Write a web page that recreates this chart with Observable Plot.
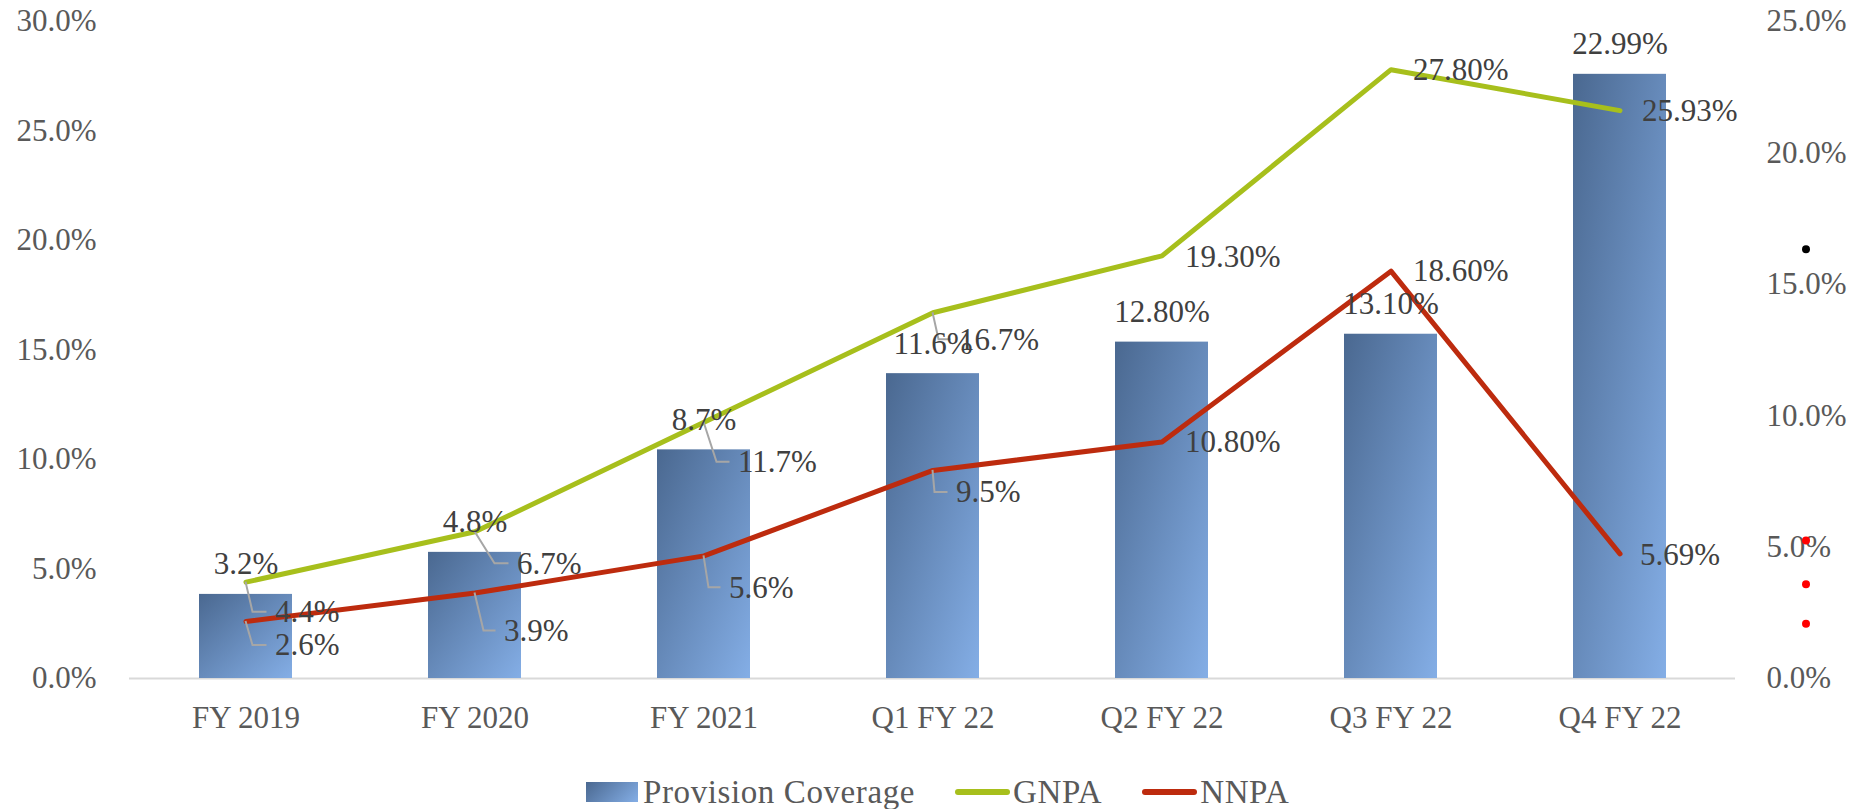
<!DOCTYPE html>
<html>
<head>
<meta charset="utf-8">
<script src="https://cdn.jsdelivr.net/npm/d3@7"></script>
<script src="https://cdn.jsdelivr.net/npm/@observablehq/plot@0.6"></script>
<style>
  body { margin: 0; background: #fff; }
  #wrap { position: relative; width: 1854px; height: 809px; font-family: "Liberation Serif", serif; }
  #legend { position: absolute; top: 772px; left: 586px; height: 40px; display: flex; align-items: center;
            font-size: 33px; color: #595959; white-space: nowrap; letter-spacing: 0.6px; }
  #legend .sw { width: 52px; height: 20px; background: linear-gradient(135deg, #4a6890, #84aee6); margin-right: 5px; }
  #legend .ln { width: 55px; height: 6px; border-radius: 3px; margin-left: 40px; margin-right: 3px; }
</style>
</head>
<body>
<div id="wrap">
  <div id="chart"></div>
  <div id="legend"></div>
</div>
<script>
// ---------------- data ----------------
const categories = ["FY 2019", "FY 2020", "FY 2021", "Q1 FY 22", "Q2 FY 22", "Q3 FY 22", "Q4 FY 22"];
const provisionCoverage = [3.2, 4.8, 8.7, 11.6, 12.80, 13.10, 22.99];   // right axis
const provisionLabels = ["3.2%", "4.8%", "8.7%", "11.6%", "12.80%", "13.10%", "22.99%"];
const gnpa = [4.4, 6.7, 11.7, 16.7, 19.30, 27.80, 25.93];             // left axis
const gnpaLabels = ["4.4%", "6.7%", "11.7%", "16.7%", "19.30%", "27.80%", "25.93%"];
const nnpa = [2.6, 3.9, 5.6, 9.5, 10.80, 18.60, 5.69];                // left axis
const nnpaLabels = ["2.6%", "3.9%", "5.6%", "9.5%", "10.80%", "18.60%", "5.69%"];
const leftTicks = [0, 5, 10, 15, 20, 25, 30];
const rightTicks = [0, 5, 10, 15, 20, 25];
const strayBlackDots = [19.6];          // stray markers right of the chart (left-axis units)
const strayRedDots = [6.3, 4.3, 2.5];
const seriesNames = ["Provision Coverage", "GNPA", "NNPA"];

// ---------------- layout / style ----------------
const RATIO = 30 / 25;  // right axis 0–25% mapped onto left axis 0–30%
const COLORS = { gnpa: "#a7bf1c", nnpa: "#bd2b0e", label: "#404040", leader: "#a6a6a6" };
// label offsets [dx, dy] in px from each point, and leader knee x
const gnpaOffsets = [[29, 30], [42, 32], [34, 40], [26, 27], [23, 1], [22, 0], [22, 0]];
const gnpaKnees = [7, 20, 13, 6, null, null, null];
const nnpaOffsets = [[29, 24], [29, 38], [25, 32], [23, 22], [23, 0], [22, 0], [20, 1]];
const nnpaKnees = [7, 9, 5, 2, null, null, null];

const bars = categories.map((c, i) => ({ cat: c, v: provisionCoverage[i] * RATIO, label: provisionLabels[i] }));
const gData = categories.map((c, i) => ({ cat: c, v: gnpa[i], label: gnpaLabels[i] }));
const nData = categories.map((c, i) => ({ cat: c, v: nnpa[i], label: nnpaLabels[i] }));

function defs() {
  const svg = d3.create("svg:defs");
  const g = svg.append("linearGradient").attr("id", "barGrad")
    .attr("x1", 0).attr("y1", 0).attr("x2", 1).attr("y2", 1);
  g.append("stop").attr("offset", "0%").attr("stop-color", "#4a6890");
  g.append("stop").attr("offset", "100%").attr("stop-color", "#84aee6");
  return svg.node();
}

function leaders(index, scales) {
  const g = d3.create("svg:g").attr("fill", "none").attr("stroke", COLORS.leader).attr("stroke-width", 2);
  const half = scales.x.bandwidth ? scales.x.bandwidth() / 2 : 0;
  const draw = (data, offsets, knees) => {
    data.forEach((d, i) => {
      if (knees[i] == null) return;
      const px = scales.x(d.cat) + half, py = scales.y(d.v);
      const [dx, dy] = offsets[i];
      g.append("path").attr("d", `M${px},${py}L${px + knees[i]},${py + dy}L${px + dx - 8},${py + dy}`);
    });
  };
  draw(gData, gnpaOffsets, gnpaKnees);
  draw(nData, nnpaOffsets, nnpaKnees);
  return g.node();
}

const labelMarks = (data, offsets) => data.map((d, i) =>
  Plot.text([d], { x: "cat", y: "v", text: "label", dx: offsets[i][0], dy: offsets[i][1],
                   textAnchor: "start", fill: COLORS.label }));

const chart = Plot.plot({
  width: 1854,
  height: 760,
  marginTop: 21,
  marginBottom: 82,
  marginLeft: 129,
  marginRight: 119,
  style: { fontFamily: '"Liberation Serif", serif', fontSize: "31px", color: "#595959", background: "transparent" },
  x: { type: "band", domain: categories, paddingInner: 0.595, paddingOuter: 0.2975 },
  y: { domain: [0, 30] },
  marks: [
    defs,
    Plot.ruleY([0], { stroke: "#d9d9d9", strokeWidth: 2 }),
    Plot.barY(bars, { x: "cat", y: "v", fill: "url(#barGrad)" }),
    Plot.axisX({ tickSize: 0, tickPadding: 27, label: null }),
    Plot.axisY(leftTicks, { anchor: "left", tickSize: 0, tickPadding: 33, label: null,
                            tickFormat: d => d.toFixed(1) + "%" }),
    Plot.axisY(rightTicks.map(t => t * RATIO), { anchor: "right", tickSize: 0, tickPadding: 31, label: null,
                            tickFormat: d => (d / RATIO).toFixed(1) + "%" }),
    Plot.line(gData, { x: "cat", y: "v", stroke: COLORS.gnpa, strokeWidth: 5 }),
    Plot.line(nData, { x: "cat", y: "v", stroke: COLORS.nnpa, strokeWidth: 5 }),
    leaders,
    Plot.text(bars, { x: "cat", y: "v", text: "label", dy: -30, fill: COLORS.label }),
    ...labelMarks(gData, gnpaOffsets),
    ...labelMarks(nData, nnpaOffsets),
    Plot.dot(strayBlackDots, { x: () => categories[6], y: d => d, dx: 186, r: 4, fill: "#000", stroke: null }),
    Plot.dot(strayRedDots, { x: () => categories[6], y: d => d, dx: 186, r: 4, fill: "#ff0000", stroke: null })
  ]
});
document.getElementById("chart").appendChild(chart);

// legend
const legend = d3.select("#legend");
legend.append("span").attr("class", "sw");
legend.append("span").text(seriesNames[0]);
legend.append("span").attr("class", "ln").style("background", COLORS.gnpa);
legend.append("span").text(seriesNames[1]);
legend.append("span").attr("class", "ln").style("background", COLORS.nnpa);
legend.append("span").text(seriesNames[2]);
</script>
</body>
</html>
